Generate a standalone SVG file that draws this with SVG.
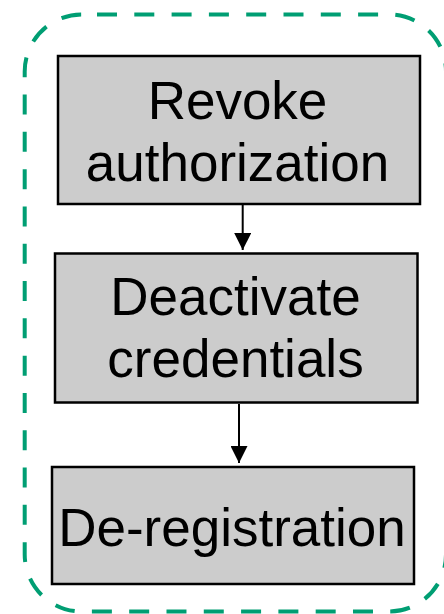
<svg xmlns="http://www.w3.org/2000/svg" width="444" height="614" viewBox="0 0 444 614">
<style>
.box{fill:#cccccc;stroke:#000;stroke-width:2.5}
.lbl{font-family:"Liberation Sans",Arial,sans-serif;font-size:53px;fill:#000;text-anchor:middle}
.edge{stroke:#000;stroke-width:2;fill:none}
.group{fill:none;stroke:#009E73;stroke-width:4;stroke-dasharray:20 17.3;stroke-dashoffset:22}
</style>
<defs>
<marker id="ah" markerUnits="userSpaceOnUse" markerWidth="17" markerHeight="17" viewBox="0 0 17 17" refX="17" refY="8.5" orient="auto">
<path d="M0,0 L17,8.5 L0,17 Z" fill="#000"/>
</marker>
</defs>
<rect id="container" class="group" x="24.7" y="14.5" width="421.3" height="597" rx="57" ry="57"/>
<g id="connectors">
<line class="edge" x1="242.7" y1="205" x2="242.7" y2="250" marker-end="url(#ah)"/>
<line class="edge" x1="239" y1="404" x2="239" y2="463" marker-end="url(#ah)"/>
</g>
<g id="revoke">
<rect class="box" x="58" y="56" width="362" height="148"/>
<text class="lbl" x="237.5" y="118.5">Revoke</text>
<text class="lbl" x="237.5" y="180.5">authorization</text>
</g>
<g id="deactivate">
<rect class="box" x="55" y="253.5" width="362.5" height="149"/>
<text class="lbl" x="235.5" y="315">Deactivate</text>
<text class="lbl" x="235.5" y="377">credentials</text>
</g>
<g id="deregistration">
<rect class="box" x="52" y="467" width="362" height="117"/>
<text class="lbl" x="232" y="546">De-registration</text>
</g>
</svg>
